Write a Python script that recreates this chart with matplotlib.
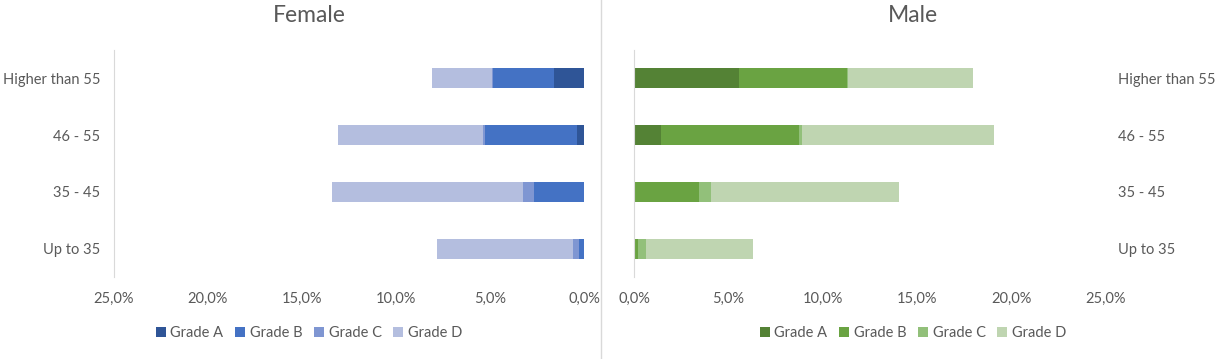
import matplotlib.pyplot as plt
from matplotlib.lines import Line2D
from matplotlib.ticker import FuncFormatter

plt.rcParams['font.family'] = ['Lato', 'DejaVu Sans']

groups = ['Higher than 55', '46 - 55', '35 - 45', 'Up to 35']
grades = ['Grade A', 'Grade B', 'Grade C', 'Grade D']

# share of employees in %, per grade, for each age group (top to bottom)
female_a = [1.6, 0.37, 0.0, 0.0]
female_b = [3.23, 4.9, 2.66, 0.27]
female_c = [0.05, 0.1, 0.6, 0.34]
female_d = [3.19, 7.73, 10.14, 7.22]

male_a = [5.58, 1.45, 0.0, 0.0]
male_b = [5.7, 7.31, 3.46, 0.23]
male_c = [0.08, 0.14, 0.64, 0.42]
male_d = [6.6, 10.19, 9.96, 5.67]

female_colors = ['#2f5597', '#4472c4', '#7f96d2', '#b4bedf']
male_colors = ['#548235', '#6aa342', '#92c07a', '#bfd5b1']

txt = '#595959'
W, H = 1220, 359
fig = plt.figure(figsize=(W / 100, H / 100), dpi=100)

def pct(v, pos):
    return ('%.1f%%' % v).replace('.', ',')

def panel(left, right, center, series, colors, title, flip):
    ax = fig.add_axes([left / W, (H - 277) / H, (right - left) / W, 227 / H])
    ypos = list(range(len(groups)))
    start = [0.0] * len(groups)
    for vals, col, lab in zip(series, colors, grades):
        ax.barh(ypos, vals, left=start, height=0.35, color=col, label=lab)
        start = [s + v for s, v in zip(start, vals)]
    ax.set_ylim(len(groups) - 0.5, -0.5)
    ax.set_xlim(25, 0) if flip else ax.set_xlim(0, 25)
    ax.set_xticks([0, 5, 10, 15, 20, 25])
    ax.xaxis.set_major_formatter(FuncFormatter(pct))
    ax.set_yticks(ypos)
    ax.set_yticklabels(groups)
    for s in ['top', 'right', 'bottom']:
        ax.spines[s].set_visible(False)
    ax.spines['left'].set_color('#d9d9d9')
    ax.tick_params(axis='x', length=0, pad=11, labelsize=10.5, colors=txt)
    ax.tick_params(axis='y', length=0, pad=10, labelsize=10.5, colors=txt)
    if not flip:
        ax.yaxis.tick_right()
        ax.tick_params(axis='y', pad=9)
    cx = center / W
    fig.text(cx, 1 - 15 / H, title, ha='center', va='center', fontsize=16.5, color=txt)
    fig.legend(*ax.get_legend_handles_labels(), loc='center',
               bbox_to_anchor=(cx, 1 - 333 / H), ncol=4, frameon=False,
               fontsize=10.5, labelcolor=txt, handlelength=0.7, handleheight=0.7,
               handletextpad=0.3, columnspacing=0.8)
    return ax

panel(114, 584, 309, [female_a, female_b, female_c, female_d], female_colors, 'Female', True)
panel(634, 1106, 913, [male_a, male_b, male_c, male_d], male_colors, 'Male', False)

fig.add_artist(Line2D([601 / W, 601 / W], [0, 1], color='#d9d9d9', lw=1))

fig.savefig('out.png', dpi=100)
